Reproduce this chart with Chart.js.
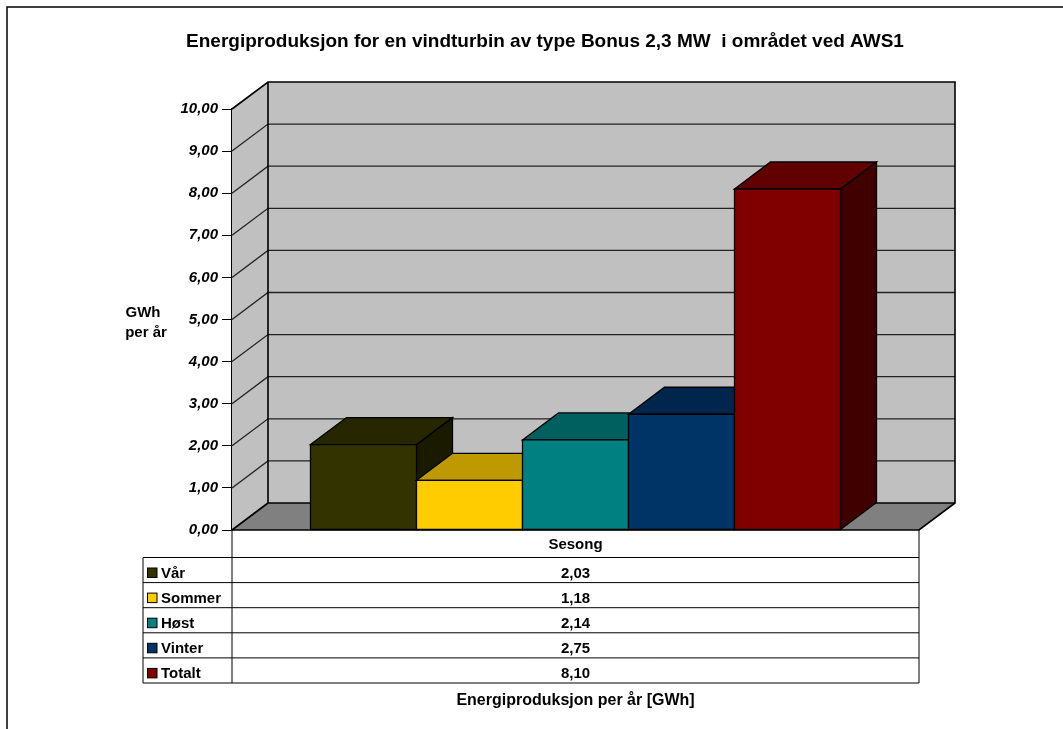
<!DOCTYPE html>
<html>
<head>
<meta charset="utf-8">
<script src="https://cdn.jsdelivr.net/npm/chart.js@4"></script>
<style>
  html, body { margin: 0; padding: 0; background: #fff; }
  canvas { display: block; }
</style>
</head>
<body>
<canvas id="c" width="1063" height="729"></canvas>
<script>
// Seasonal energy production, GWh per year
const seasons = ['Vår', 'Sommer', 'Høst', 'Vinter', 'Totalt'];
const production = [2.03, 1.18, 2.14, 2.75, 8.10];
const seasonColors = ['#333300', '#FFCC00', '#008080', '#003366', '#800000'];
const categoryLabels = ['Sesong'];
const titleText = 'Energiproduksjon for en vindturbin av type Bonus 2,3 MW  i området ved AWS1';
const yTitleLines = ['GWh', 'per år'];
const xTitleText = 'Energiproduksjon per år [GWh]';
const yMin = 0, yMax = 10, yStep = 1;

const FONT = '"Liberation Sans", Arial, sans-serif';
const DEPTH_X = 36, DEPTH_Y = -27;
const TABLE_LEFT = 143;
const ROW_H = 25.1;

function fmt(v) { return v.toFixed(2).replace('.', ','); }

function shade(hex, f) {
  const n = parseInt(hex.slice(1), 16);
  const r = Math.round(((n >> 16) & 255) * f);
  const g = Math.round(((n >> 8) & 255) * f);
  const b = Math.round((n & 255) * f);
  return 'rgb(' + r + ',' + g + ',' + b + ')';
}

function poly(ctx, pts, fill, stroke, lw) {
  ctx.beginPath();
  ctx.moveTo(pts[0][0], pts[0][1]);
  for (let i = 1; i < pts.length; i++) ctx.lineTo(pts[i][0], pts[i][1]);
  ctx.closePath();
  if (fill) { ctx.fillStyle = fill; ctx.fill(); }
  if (stroke) { ctx.strokeStyle = stroke; ctx.lineWidth = lw || 1; ctx.stroke(); }
}

// Walls, floor and gridlines of the 3D box
const wallsPlugin = {
  id: 'walls',
  beforeDatasetsDraw(chart) {
    const ctx = chart.ctx;
    const a = chart.chartArea;
    const y = chart.scales.y;
    const y0 = y.getPixelForValue(yMin), y1 = y.getPixelForValue(yMax);
    const L = a.left, R = a.right;
    ctx.save();
    // side wall
    poly(ctx, [[L, y0], [L + DEPTH_X, y0 + DEPTH_Y], [L + DEPTH_X, y1 + DEPTH_Y], [L, y1]], '#C0C0C0');
    // back wall
    poly(ctx, [[L + DEPTH_X, y0 + DEPTH_Y], [R + DEPTH_X, y0 + DEPTH_Y], [R + DEPTH_X, y1 + DEPTH_Y], [L + DEPTH_X, y1 + DEPTH_Y]], '#C0C0C0');
    // floor
    poly(ctx, [[L, y0], [R, y0], [R + DEPTH_X, y0 + DEPTH_Y], [L + DEPTH_X, y0 + DEPTH_Y]], '#808080');
    // gridlines
    ctx.strokeStyle = '#222';
    ctx.lineWidth = 1.3;
    for (let v = yMin + yStep; v < yMax; v += yStep) {
      const py = y.getPixelForValue(v);
      ctx.beginPath();
      ctx.moveTo(L, py);
      ctx.lineTo(L + DEPTH_X, py + DEPTH_Y);
      ctx.lineTo(R + DEPTH_X, py + DEPTH_Y);
      ctx.stroke();
    }
    // wall outlines
    ctx.strokeStyle = '#000';
    ctx.lineWidth = 1.6;
    ctx.beginPath();
    ctx.moveTo(L, y1);
    ctx.lineTo(L + DEPTH_X, y1 + DEPTH_Y);
    ctx.lineTo(R + DEPTH_X, y1 + DEPTH_Y);
    ctx.lineTo(R + DEPTH_X, y0 + DEPTH_Y);
    ctx.lineTo(R, y0);
    ctx.lineTo(L, y0);
    ctx.stroke();
    ctx.beginPath();
    ctx.moveTo(L + DEPTH_X, y1 + DEPTH_Y);
    ctx.lineTo(L + DEPTH_X, y0 + DEPTH_Y);
    ctx.lineTo(R + DEPTH_X, y0 + DEPTH_Y);
    ctx.moveTo(L, y0);
    ctx.lineTo(L + DEPTH_X, y0 + DEPTH_Y);
    ctx.stroke();
    ctx.restore();
  },
  // 3D blocks, drawn left to right so nearer faces cover farther ones
  afterDatasetsDraw(chart) {
    const ctx = chart.ctx;
    ctx.save();
    chart.data.datasets.forEach((ds, i) => {
      const bar = chart.getDatasetMeta(i).data[0];
      const p = bar.getProps(['x', 'y', 'base', 'width'], true);
      const l = p.x - p.width / 2, r = p.x + p.width / 2, t = p.y, b = p.base;
      const col = seasonColors[i];
      poly(ctx, [[r, t], [r + DEPTH_X, t + DEPTH_Y], [r + DEPTH_X, b + DEPTH_Y], [r, b]], shade(col, 0.5), '#000', 1.3);
      poly(ctx, [[l, t], [l + DEPTH_X, t + DEPTH_Y], [r + DEPTH_X, t + DEPTH_Y], [r, t]], shade(col, 0.75), '#000', 1.3);
      poly(ctx, [[l, t], [r, t], [r, b], [l, b]], col, '#000', 1.3);
    });
    ctx.restore();
  },
  // title, axis titles and data table
  afterDraw(chart) {
    const ctx = chart.ctx;
    const a = chart.chartArea;
    const y = chart.scales.y;
    const y0 = y.getPixelForValue(yMin);
    ctx.save();
    // frame edges
    ctx.strokeStyle = '#000';
    ctx.lineWidth = 1.5;
    ctx.beginPath();
    ctx.moveTo(7, 729);
    ctx.lineTo(7, 7);
    ctx.lineTo(1063, 7);
    ctx.stroke();

    ctx.fillStyle = '#000';
    ctx.textAlign = 'center';
    ctx.textBaseline = 'alphabetic';
    ctx.font = 'bold 19px ' + FONT;
    ctx.fillText(titleText, 545, 47);
    ctx.font = 'bold 15px ' + FONT;
    ctx.fillText(yTitleLines[0], 143, 317);
    ctx.fillText(yTitleLines[1], 146, 337);

    // data table
    const cx = (a.left + a.right) / 2;
    const rowsTop = y0 + 27.5;
    const rowsBottom = rowsTop + ROW_H * seasons.length;
    ctx.strokeStyle = '#000';
    ctx.lineWidth = 1;
    ctx.beginPath();
    ctx.moveTo(a.left, y0); ctx.lineTo(a.left, rowsBottom);
    ctx.moveTo(a.right, y0); ctx.lineTo(a.right, rowsBottom);
    ctx.moveTo(TABLE_LEFT, rowsTop); ctx.lineTo(TABLE_LEFT, rowsBottom);
    for (let i = 0; i <= seasons.length; i++) {
      const ry = rowsTop + ROW_H * i;
      ctx.moveTo(TABLE_LEFT, ry); ctx.lineTo(a.right, ry);
    }
    ctx.stroke();

    ctx.fillText(categoryLabels[0], cx, y0 + 19);
    seasons.forEach((s, i) => {
      const ry = rowsTop + ROW_H * i;
      ctx.fillStyle = seasonColors[i];
      ctx.fillRect(147.5, ry + 10.5, 9.5, 9.5);
      ctx.strokeStyle = '#000';
      ctx.strokeRect(147.5, ry + 10.5, 9.5, 9.5);
      ctx.fillStyle = '#000';
      ctx.textAlign = 'left';
      ctx.fillText(s, 161, ry + 20.5);
      ctx.textAlign = 'center';
      ctx.fillText(fmt(production[i]), cx, ry + 20.5);
    });
    ctx.font = 'bold 16px ' + FONT;
    ctx.fillText(xTitleText, cx, 705);
    ctx.restore();
  }
};

new Chart(document.getElementById('c'), {
  type: 'bar',
  data: {
    labels: categoryLabels,
    datasets: seasons.map((s, i) => ({
      label: s,
      data: [production[i]],
      backgroundColor: seasonColors[i],
      borderColor: '#000',
      borderWidth: 1
    }))
  },
  options: {
    responsive: false,
    animation: false,
    events: [],
    layout: { padding: { top: 109, right: 144, bottom: 199, left: 0 } },
    datasets: { bar: { categoryPercentage: 0.7715, barPercentage: 1 } },
    plugins: { legend: { display: false }, title: { display: false }, tooltip: { enabled: false } },
    scales: {
      x: { display: false },
      y: {
        min: yMin,
        max: yMax,
        afterFit(scale) { scale.width = 232; },
        ticks: {
          stepSize: yStep,
          padding: 4,
          color: '#000',
          font: { family: FONT, size: 15, weight: 'bold', style: 'italic' },
          callback: (v) => fmt(v)
        },
        grid: { drawOnChartArea: false, drawTicks: true, tickLength: 10, color: '#000', lineWidth: 1 },
        border: { display: true, color: '#000', width: 1.5 }
      }
    }
  },
  plugins: [wallsPlugin]
});
</script>
</body>
</html>
